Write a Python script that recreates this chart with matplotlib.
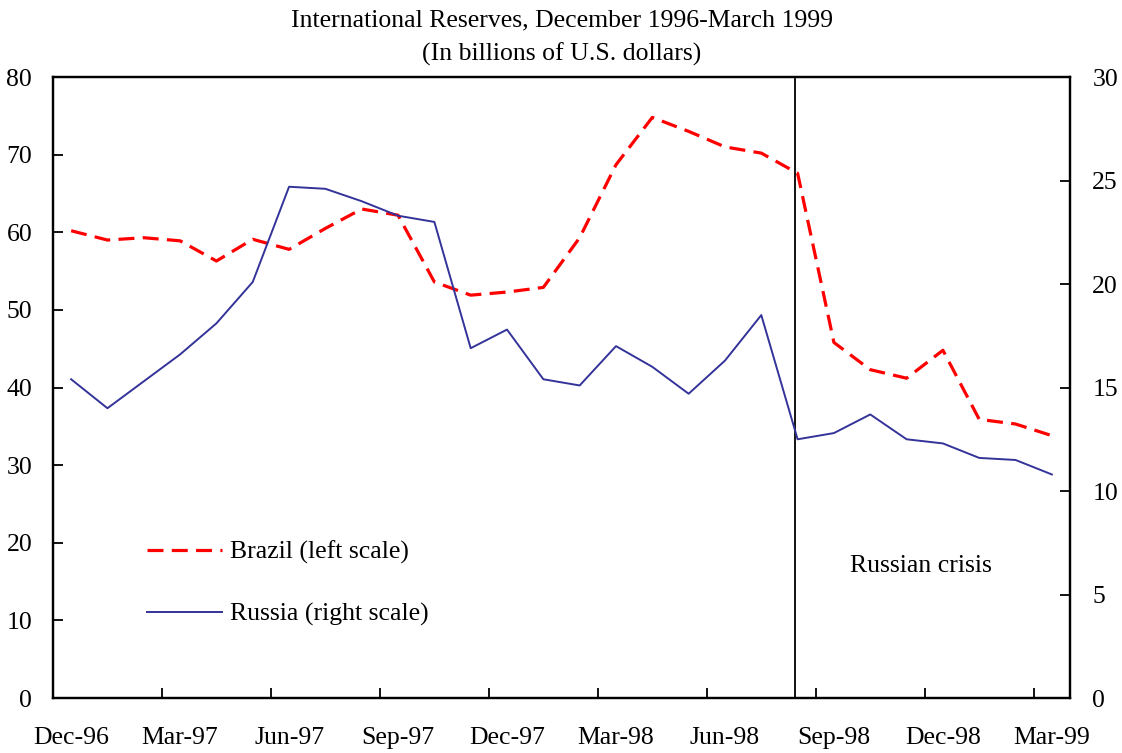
import matplotlib

matplotlib.use("Agg")

import matplotlib.pyplot as plt
import numpy as np

plt.rcParams["font.family"] = ["Liberation Serif", "DejaVu Serif"]

months = [
    "Dec-96", "Jan-97", "Feb-97", "Mar-97", "Apr-97", "May-97", "Jun-97",
    "Jul-97", "Aug-97", "Sep-97", "Oct-97", "Nov-97", "Dec-97", "Jan-98",
    "Feb-98", "Mar-98", "Apr-98", "May-98", "Jun-98", "Jul-98", "Aug-98",
    "Sep-98", "Oct-98", "Nov-98", "Dec-98", "Jan-99", "Feb-99", "Mar-99",
]
brazil = [
    60.2, 59.0, 59.3, 58.9, 56.3, 59.1, 57.8, 60.5, 63.0, 62.2, 53.6, 51.9,
    52.3, 52.9, 59.3, 68.7, 74.8, 73.0, 71.0, 70.2, 67.6, 45.8, 42.3, 41.2,
    44.8, 35.9, 35.3, 33.8,
]
russia = [
    15.4, 14.0, 15.3, 16.6, 18.1, 20.1, 24.7, 24.6, 24.0, 23.3, 23.0, 16.9,
    17.8, 15.4, 15.1, 17.0, 16.0, 14.7, 16.3, 18.5, 12.5, 12.8, 13.7, 12.5,
    12.3, 11.6, 11.5, 10.8,
]
crisis_month = "Aug-98"

x = np.arange(len(months))
FS = 18.5

fig = plt.figure(figsize=(11.22, 7.53), dpi=100)
ax = fig.add_axes([0.0472, 0.073, 0.9065, 0.8247])
ax2 = ax.twinx()

brazil_line, = ax.plot(x, brazil, color="#ff0000", linewidth=2.3, dashes=(5, 2.6),
                       label="Brazil (left scale)")
russia_line, = ax2.plot(x, russia, color="#333399", linewidth=1.4,
                        label="Russia (right scale)")

crisis_x = months.index(crisis_month) - 0.07
ax.axvline(crisis_x, ymax=0.997, color="black", linewidth=1.3)
ax.text(crisis_x + 1.5, 17.0, "Russian crisis", fontsize=FS, ha="left", va="center")

ax.set_xlim(-0.5, len(months) - 0.5)
ax.set_ylim(0, 80)
ax2.set_ylim(0, 30)
ax.set_yticks(np.arange(0, 81, 10))
ax2.set_yticks(np.arange(0, 31, 5))

# labels on every third month, tick marks on the category boundaries
label_pos = x[::3]
ax.set_xticks(label_pos)
ax.set_xticklabels([months[i] for i in label_pos])
ax.set_xticks(label_pos[1:] - 0.5, minor=True)
ax.tick_params(axis="x", which="major", length=0, pad=21, labelsize=FS)
ax.tick_params(axis="x", which="minor", direction="in", length=7, width=1.3)
ax.tick_params(axis="y", direction="in", length=7, width=1.3, labelsize=FS, pad=15)
ax2.tick_params(axis="y", direction="in", length=7, width=1.3, labelsize=FS, pad=16)

for a in (ax, ax2):
    for spine in a.spines.values():
        spine.set_linewidth(1.6)

ax.set_title("International Reserves, December 1996-March 1999\n(In billions of U.S. dollars)",
             fontsize=FS, linespacing=1.6, pad=12)

ax.legend(handles=[brazil_line, russia_line], loc="upper left",
          bbox_to_anchor=(0.07, 0.29), frameon=False, fontsize=FS,
          handlelength=2.9, handletextpad=0.3, labelspacing=1.5)

fig.savefig("out.png", dpi=100)
